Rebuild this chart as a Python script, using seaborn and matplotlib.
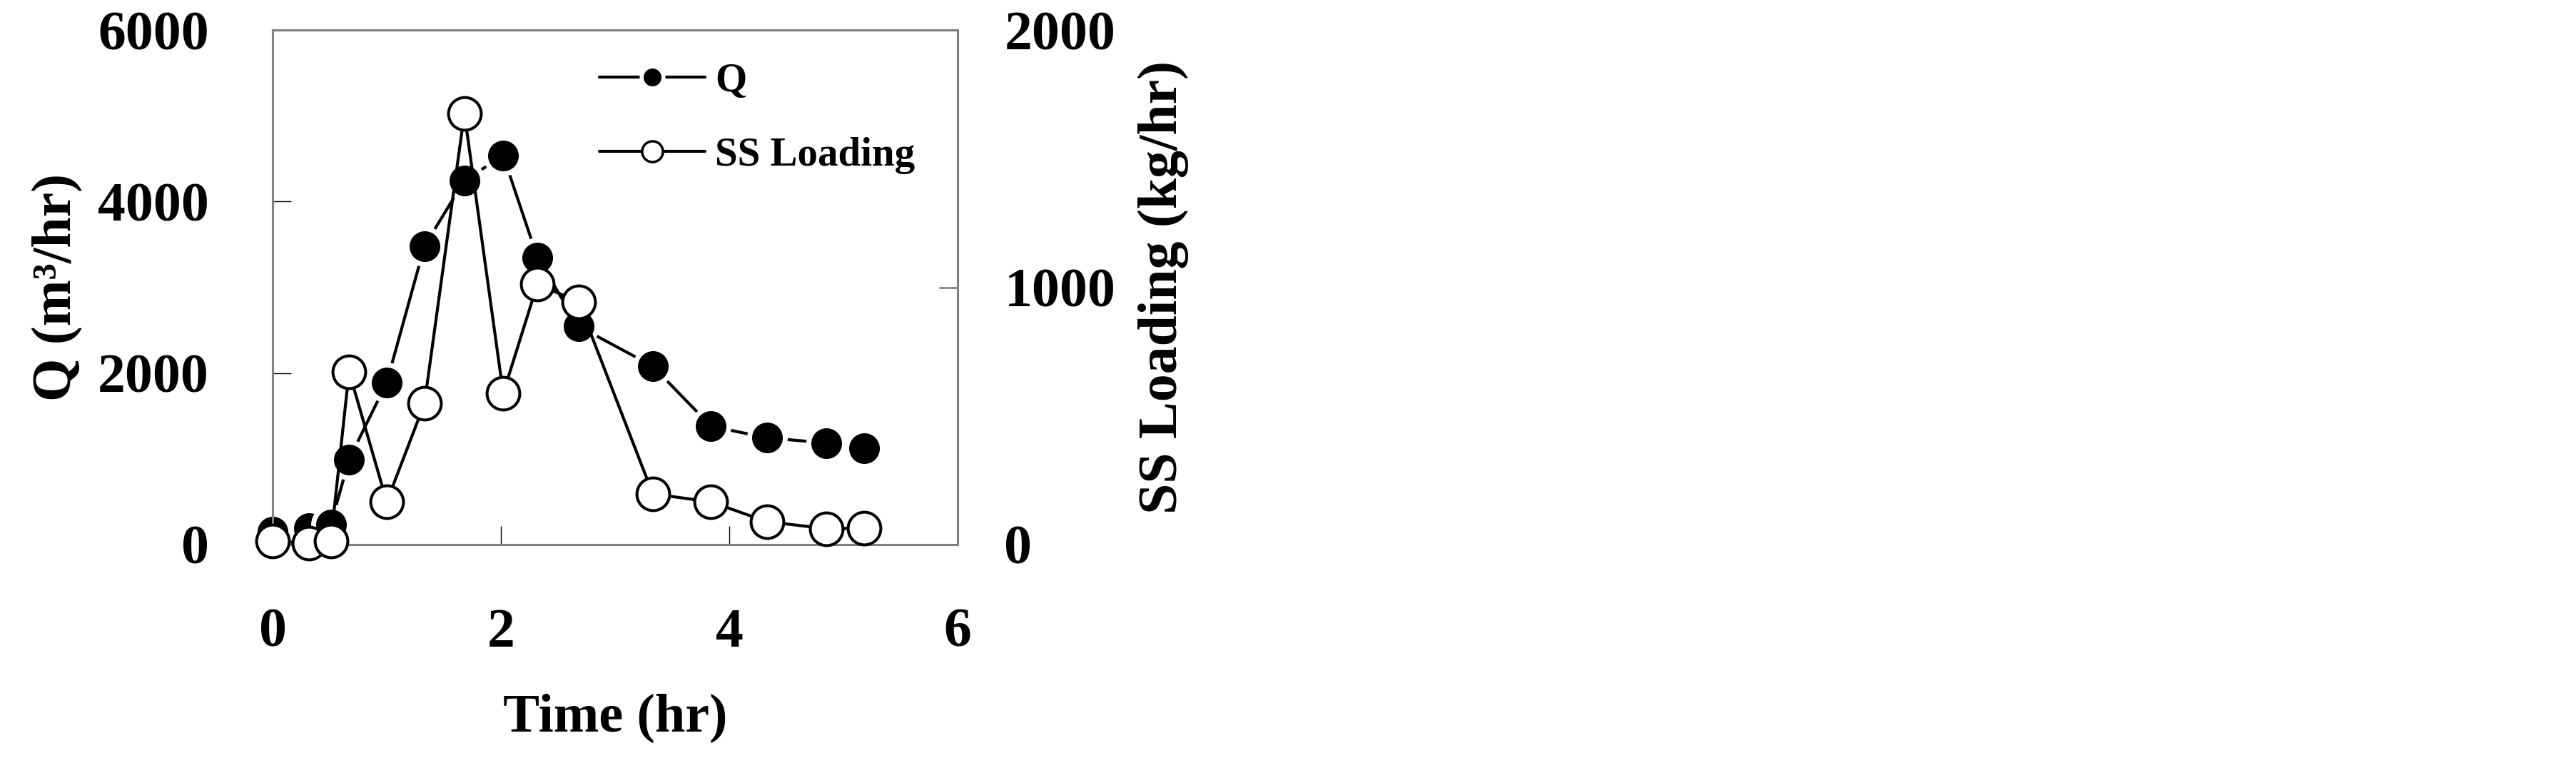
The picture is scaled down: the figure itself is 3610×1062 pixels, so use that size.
import matplotlib
matplotlib.use("Agg")
import matplotlib.pyplot as plt
import seaborn as sns
import pandas as pd
from matplotlib.lines import Line2D

# ---- data ----
time_hr = [0.0, 0.32, 0.51, 0.67, 1.0, 1.33, 1.68, 2.02, 2.32, 2.68, 3.33, 3.84, 4.33, 4.85, 5.18]
q_m3hr = [150, 190, 235, 994, 1890, 3480, 4245, 4535, 3345, 2545, 2080, 1380, 1245, 1185, 1125]
ss_kghr = [15, 5, 15, 672, 166, 548, 1675, 588, 1013, 943, 197, 166, 89, 62, 64]

x_ticks = [0, 2, 4, 6]
q_ticks = [0, 2000, 4000, 6000]
ss_ticks = [0, 1000, 2000]

df = pd.DataFrame({"time": time_hr, "Q": q_m3hr, "SS": ss_kghr})

sns.set_theme(style="white")
plt.rcParams["font.family"] = ["Liberation Serif", "DejaVu Serif"]
plt.rcParams["font.weight"] = "bold"
plt.rcParams["text.color"] = "black"
plt.rcParams["axes.labelcolor"] = "black"
plt.rcParams["xtick.color"] = "black"
plt.rcParams["ytick.color"] = "black"

W, H = 3610, 1062
fig = plt.figure(figsize=(W / 100, H / 100), dpi=100)
fig.patch.set_facecolor("white")
L, R, T, B = 382, 1342, 42, 763
ax = fig.add_axes([L / W, 1 - B / H, (R - L) / W, (B - T) / H])
ax2 = ax.twinx()

sns.lineplot(data=df, x="time", y="Q", ax=ax, estimator=None, sort=False,
             color="black", linewidth=3, marker="o", markersize=36,
             markerfacecolor="black", markeredgecolor="white", markeredgewidth=5,
             clip_on=False, zorder=3)
sns.lineplot(data=df, x="time", y="SS", ax=ax2, estimator=None, sort=False,
             color="black", linewidth=3, marker="o", markersize=33,
             markerfacecolor="white", markeredgecolor="black", markeredgewidth=2.9,
             clip_on=False, zorder=3)

ax.set_xlim(0, 6)
ax.set_ylim(0, 6000)
ax2.set_ylim(0, 2000)
ax.set_xticks(x_ticks)
ax.set_yticks(q_ticks)
ax2.set_yticks(ss_ticks)
ax.set_xticklabels([str(v) for v in x_ticks])
ax.set_yticklabels([str(v) for v in q_ticks])
ax2.set_yticklabels([str(v) for v in ss_ticks])

for a in (ax, ax2):
    for s in a.spines.values():
        s.set_color("#808080")
        s.set_linewidth(2.2)
    a.grid(False)

ax.tick_params(axis="x", direction="in", length=18.7, width=1, color="black",
               labelcolor="black", labelsize=56, pad=64, bottom=True, top=False)
ax.tick_params(axis="y", direction="in", length=18.7, width=1, color="black",
               labelcolor="black", labelsize=56, pad=64, left=True, right=False)
ax2.tick_params(axis="y", direction="in", length=18.7, width=1, color="black",
                labelcolor="black", labelsize=56, pad=47, left=False, right=True)
for lab in ax.get_xticklabels() + ax.get_yticklabels() + ax2.get_yticklabels():
    lab.set_fontweight("bold")

ax.set_xlabel("Time (hr)", fontsize=55, fontweight="bold", ha="center", va="center",
              color="black")
ax.xaxis.set_label_coords(0.5, (B - 1006) / (B - T))
ax.set_ylabel("Q (m³/hr)", fontsize=56, fontweight="bold", ha="center", va="center",
              color="black")
ax.yaxis.set_label_coords((81 - L) / (R - L), 0.5)
ax2.set_ylabel("SS Loading (kg/hr)", fontsize=56, fontweight="bold", ha="center",
               va="center", rotation=90, color="black")
ax2.yaxis.set_label_coords((1630 - L) / (R - L), 0.5)

handles = [
    Line2D([], [], color="black", linewidth=3, marker="o", markersize=22,
           markerfacecolor="black", markeredgecolor="white", markeredgewidth=4),
    Line2D([], [], color="black", linewidth=3, marker="o", markersize=21,
           markerfacecolor="white", markeredgecolor="black", markeredgewidth=2.5),
]
leg = ax2.legend(handles, ["Q", "SS Loading"], loc="center left",
                 bbox_to_anchor=((840 - L) / (R - L), (B - 166) / (B - T)),
                 frameon=False, handlelength=2.6, handletextpad=0.25,
                 labelspacing=0.90, borderpad=0, borderaxespad=0,
                 prop={"family": "Liberation Serif", "weight": "bold", "size": 41})
for t in leg.get_texts():
    t.set_color("black")

fig.savefig("out.png", dpi=100, facecolor="white")
